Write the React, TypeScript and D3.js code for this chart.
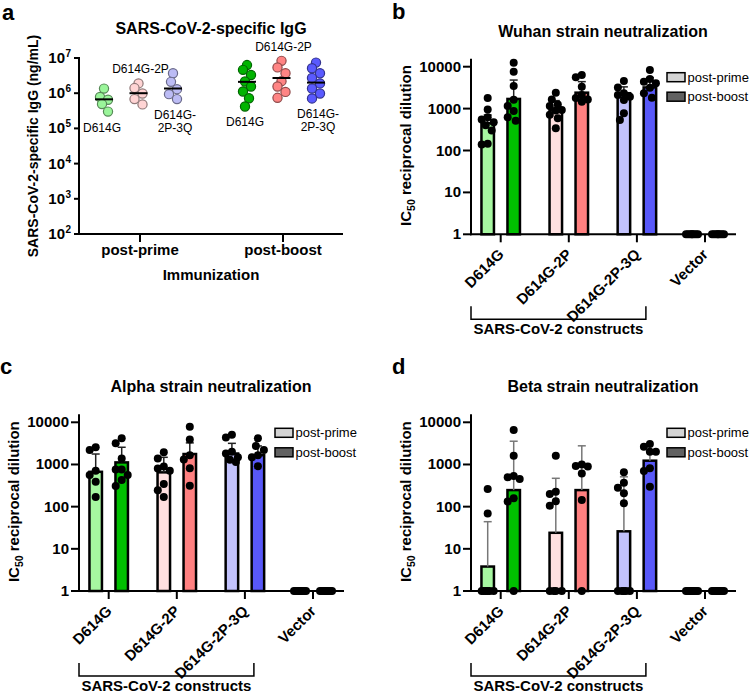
import React from 'react';
import * as d3 from 'd3';

const FONT = "'Liberation Sans', Arial, Helvetica, sans-serif";
const FS_TICK = 15;
const FS_TITLE = 16;
const FS_LABEL = 15;

// ---------- Panel a data ----------
const immunizations = ['post-prime', 'post-boost'];
const constructs = ['D614G', 'D614G-2P', 'D614G-2P-3Q'];
const iggPrime = [
  [1.35e6, 7.8e5, 6.5e5, 4.9e5, 3.0e5],
  [1.9e6, 1.4e6, 9.8e5, 6.8e5, 4.8e5],
  [3.7e6, 2.1e6, 1.3e6, 9.4e5, 6.8e5],
];
const iggBoost = [
  [6.3e6, 4.6e6, 3.3e6, 2.15e6, 1.55e6, 1.12e6, 7.2e5, 4.2e5],
  [8.3e6, 5.4e6, 3.7e6, 2.2e6, 1.55e6, 1.09e6, 7.4e5],
  [7.4e6, 5.1e6, 3.7e6, 2.7e6, 1.9e6, 1.36e6, 9.8e5, 7.1e5],
];
const iggPrimeMean = [6.7e5, 1.0e6, 1.36e6];
const iggBoostMean = [2.1e6, 2.7e6, 2.0e6];
const iggPrimeColors = ['#9af59a', '#ffd4d4', '#bcbcf5'];
const iggBoostColors = ['#00b400', '#ff8484', '#5a5aff'];
const iggTicks = [1e2, 1e3, 1e4, 1e5, 1e6, 1e7];

// ---------- Neutralization data ----------
const categories = ['D614G', 'D614G-2P', 'D614G-2P-3Q', 'Vector'];
const primeColors = ['#a6f7a0', '#ffe0e0', '#c2c2fc', '#ffffff'];
const boostColors = ['#00c000', '#ff8080', '#5858f8', '#ffffff'];
const neutTicks = [1, 10, 100, 1000, 10000];

// Wuhan
const wuhanPrimeMean = [446, 930, 2330, 1];
const wuhanPrimeErr = [705, 1550, 3300, 1];
const wuhanBoostMean = [1700, 2400, 3200, 1];
const wuhanBoostErr = [4800, 4400, 5500, 1];
const wuhanPrimePts = [
  [1800, 950, 620, 550, 470, 400, 300, 145, 140],
  [2400, 1660, 1260, 1150, 930, 900, 710, 590, 340],
  [4560, 3200, 2330, 2100, 1920, 1600, 770, 535],
  [1, 1, 1, 1, 1, 1, 1, 1],
];
const wuhanBoostPts = [
  [12500, 7600, 3450, 1620, 1150, 880, 620, 515],
  [6300, 5600, 3300, 2100, 1800, 1650, 1450],
  [8300, 5100, 4400, 4000, 3150, 2330, 1820],
  [1, 1, 1, 1, 1, 1, 1, 1],
];

// Alpha
const alphaPrimeMean = [670, 650, 1820, 1];
const alphaPrimeErr = [1770, 1480, 3170, 1];
const alphaBoostMean = [1120, 1770, 1660, 1];
const alphaBoostErr = [2560, 3250, 2750, 1];
const alphaPrimePts = [
  [2560, 2200, 710, 560, 390, 170],
  [1940, 1390, 890, 800, 710, 345, 245, 170],
  [5100, 4370, 2000, 1820, 1480, 1300, 1150],
  [1, 1, 1, 1, 1, 1, 1, 1],
];
const alphaBoostPts = [
  [4160, 3170, 1390, 760, 760, 560, 430, 310],
  [7800, 3900, 1660, 1320, 810, 315],
  [4160, 2750, 2200, 1660, 1480, 910],
  [1, 1, 1, 1, 1, 1, 1, 1],
];

// Beta
const betaPrimeMean = [3.8, 24, 26, 1];
const betaPrimeErr = [44, 470, 510, 1];
const betaBoostMean = [247, 247, 1230, 1];
const betaBoostErr = [3560, 2770, 2000, 1];
const betaPrimePts = [
  [263, 69, 1, 1, 1, 1, 1, 1],
  [1600, 225, 200, 135, 105, 1, 1, 1, 1],
  [650, 370, 280, 207, 120, 1, 1, 1, 1, 1],
  [1, 1, 1, 1, 1, 1, 1, 1],
];
const betaBoostPts = [
  [6600, 1600, 530, 500, 450, 158, 132, 1],
  [1000, 915, 900, 615, 144, 1],
  [3050, 2630, 2000, 2000, 810, 700, 295],
  [1, 1, 1, 1, 1, 1, 1, 1],
];

// simple dodge to spread overlapping points horizontally
function dodge(ys: number[], r: number, maxOff: number, step: number): number[] {
  const placed: { x: number; y: number }[] = [];
  const cands: number[] = [0];
  for (let s = step; s <= maxOff + 1e-6; s += step) { cands.push(-s, s); }
  return ys.map((y) => {
    let best = 0;
    let bestD = -1;
    for (const c of cands) {
      let md = Infinity;
      for (const p of placed) {
        const d = Math.hypot(p.x - c, p.y - y);
        if (d < md) md = d;
      }
      if (md >= 2 * r * 0.95) { best = c; bestD = md; break; }
      if (md > bestD) { bestD = md; best = c; }
    }
    placed.push({ x: best, y });
    return best;
  });
}

function PanelA() {
  const axisX = 79;
  const y = d3.scaleLog().domain([1e2, 1e7]).range([234, 58]);
  const xImm = d3.scalePoint<string>().domain(immunizations).range([140, 283]);
  const xCon = d3.scalePoint<string>().domain(constructs).range([-36, 33]);
  const groups = [
    { imm: 'post-prime', pts: iggPrime, means: iggPrimeMean, colors: iggPrimeColors },
    { imm: 'post-boost', pts: iggBoost, means: iggBoostMean, colors: iggBoostColors },
  ];
  const r = 4.6;
  return (
    <g fontFamily={FONT}>
      <text x={2} y={20} fontSize={22} fontWeight="bold">a</text>
      <text x={211} y={34} fontSize={FS_TITLE} fontWeight="bold" textAnchor="middle">SARS-CoV-2-specific IgG</text>
      <line x1={axisX} x2={axisX} y1={57} y2={235} stroke="#000" strokeWidth={2} />
      <line x1={axisX - 1} x2={343} y1={234} y2={234} stroke="#000" strokeWidth={2} />
      {iggTicks.map((t) => (
        <g key={t}>
          <line x1={axisX - 5} x2={axisX} y1={y(t)} y2={y(t)} stroke="#000" strokeWidth={2} />
          <text x={axisX - 14} y={y(t) + 5} fontSize={FS_TICK} fontWeight="bold" textAnchor="end">10</text>
          <text x={axisX - 13.5} y={y(t) - 1} fontSize={10} fontWeight="bold" textAnchor="start">{Math.round(Math.log10(t))}</text>
        </g>
      ))}
      {immunizations.map((im) => (
        <g key={im}>
          <line x1={xImm(im)} x2={xImm(im)} y1={234} y2={242} stroke="#000" strokeWidth={2} />
          <text x={xImm(im)} y={255} fontSize={FS_TICK} fontWeight="bold" textAnchor="middle">{im}</text>
        </g>
      ))}
      <text x={211} y={280} fontSize={FS_LABEL} fontWeight="bold" textAnchor="middle">Immunization</text>
      <text transform={`translate(38,146) rotate(-90)`} fontSize={14} fontWeight="bold" textAnchor="middle">SARS-CoV-2-specific IgG (ng/mL)</text>
      {groups.map((g) =>
        constructs.map((c, ci) => {
          const cx = (xImm(g.imm) as number) + (xCon(c) as number);
          const ys = g.pts[ci].map((v) => y(v));
          const offs = dodge(ys, r, 4, 2);
          const minY = d3.max(ys) as number;
          const maxY = d3.min(ys) as number;
          const fill = g.colors[ci];
          const stroke = d3.color(fill)!.darker(1.6).formatHex();
          let label: React.ReactNode = null;
          if (ci === 1) {
            label = <text x={cx + 2} y={maxY - 10} fontSize={12} textAnchor="middle">D614G-2P</text>;
          } else if (ci === 0) {
            label = <text x={cx - 2} y={minY + 20} fontSize={12} textAnchor="middle">D614G</text>;
          } else {
            label = (
              <text x={cx + 2} y={minY + 20} fontSize={12} textAnchor="middle">
                <tspan x={cx + 2}>D614G-</tspan>
                <tspan x={cx + 2} dy={13}>2P-3Q</tspan>
              </text>
            );
          }
          return (
            <g key={g.imm + c}>
              {ys.map((yy, i) => (
                <circle key={i} cx={cx + offs[i]} cy={yy} r={r} fill={fill} stroke={stroke} strokeWidth={1.2} />
              ))}
              <line x1={cx - 9} x2={cx + 9} y1={y(g.means[ci])} y2={y(g.means[ci])} stroke="#000" strokeWidth={2} />
              {label}
            </g>
          );
        })
      )}
    </g>
  );
}

type BarPanelProps = {
  axisX: number;
  y1: number;
  y10k: number;
  letter: string;
  title: string;
  primeMean: number[];
  primeErr: number[];
  boostMean: number[];
  boostErr: number[];
  primePts: number[][];
  boostPts: number[][];
  errColor: string;
};

function BarPanel(p: BarPanelProps) {
  const { axisX, y1, y10k } = p;
  const y = d3.scaleLog().domain([1, 10000]).range([y1, y10k]);
  const x = d3.scalePoint<string>().domain(categories).range([axisX + 29.7, axisX + 234]);
  const off = 13;
  const bw = 12.5;
  const r = 4;
  const series = [
    { key: 'prime', dx: -off, mean: p.primeMean, err: p.primeErr, pts: p.primePts, colors: primeColors },
    { key: 'boost', dx: off, mean: p.boostMean, err: p.boostErr, pts: p.boostPts, colors: boostColors },
  ];
  const xLast = x('D614G-2P-3Q') as number;
  return (
    <g fontFamily={FONT}>
      <text x={axisX - 79} y={y10k - 48} fontSize={22} fontWeight="bold">{p.letter}</text>
      <text x={axisX + 132} y={y10k - 30} fontSize={FS_TITLE} fontWeight="bold" textAnchor="middle">{p.title}</text>
      <text transform={`translate(${axisX - 60},${(y1 + y10k) / 2 - 5}) rotate(-90)`} fontSize={FS_LABEL} fontWeight="bold" textAnchor="middle">
        IC<tspan fontSize={10.5} dy={4}>50</tspan><tspan dy={-4}> reciprocal dilution</tspan>
      </text>
      {series.map((s) =>
        categories.map((c, ci) => {
          const cx = (x(c) as number) + s.dx;
          const top = y(s.mean[ci]);
          return (
            <rect key={s.key + c} x={cx - bw / 2} y={top} width={bw} height={Math.max(0, y1 - top)} fill={s.colors[ci]} stroke="#000" strokeWidth={2.5} />
          );
        })
      )}
      {series.map((s) =>
        categories.map((c, ci) => {
          if (s.err[ci] <= s.mean[ci]) return null;
          const cx = (x(c) as number) + s.dx;
          return (
            <g key={'e' + s.key + c} stroke={p.errColor} strokeWidth={1.5}>
              <line x1={cx} x2={cx} y1={y(s.mean[ci])} y2={y(s.err[ci])} />
              <line x1={cx - 4} x2={cx + 4} y1={y(s.err[ci])} y2={y(s.err[ci])} />
            </g>
          );
        })
      )}
      {series.map((s) =>
        categories.map((c, ci) => {
          const cx = (x(c) as number) + s.dx;
          const ys = s.pts[ci].map((v) => y(v));
          const offs = dodge(ys, r, 6, 2);
          return (
            <g key={'p' + s.key + c}>
              {ys.map((yy, i) => (
                <circle key={i} cx={cx + offs[i]} cy={yy} r={r} fill="#000" />
              ))}
            </g>
          );
        })
      )}
      <line x1={axisX} x2={axisX} y1={y(10000) - 8} y2={y1 + 1} stroke="#000" strokeWidth={2} />
      <line x1={axisX - 1} x2={axisX + 265} y1={y1} y2={y1} stroke="#000" strokeWidth={2} />
      {neutTicks.map((t) => (
        <g key={t}>
          <line x1={axisX - 8} x2={axisX} y1={y(t)} y2={y(t)} stroke="#000" strokeWidth={2} />
          <text x={axisX - 10} y={y(t) + 5} fontSize={FS_TICK} fontWeight="bold" textAnchor="end">{t}</text>
        </g>
      ))}
      {categories.map((c) => (
        <g key={'t' + c}>
          <line x1={x(c)} x2={x(c)} y1={y1} y2={y1 + 8} stroke="#000" strokeWidth={2} />
          <text transform={`translate(${(x(c) as number) + 4},${y1 + 21}) rotate(-45)`} fontSize={FS_TICK} fontWeight="bold" textAnchor="end">{c}</text>
        </g>
      ))}
      <path d={`M${axisX},${y1 + 72}V${y1 + 85}H${xLast + 9}V${y1 + 72}`} fill="none" stroke="#000" strokeWidth={1.5} />
      <text x={(axisX + xLast + 9) / 2} y={y1 + 100} fontSize={FS_LABEL} fontWeight="bold" textAnchor="middle">SARS-CoV-2 constructs</text>
      <g>
        <rect x={axisX + 196} y={y10k + 6} width={18} height={9} fill="#d4d4d4" stroke="#000" strokeWidth={1.5} />
        <text x={axisX + 216.5} y={y10k + 15} fontSize={13}>post-prime</text>
        <rect x={axisX + 196} y={y10k + 25.5} width={18} height={9} fill="#616161" stroke="#000" strokeWidth={1.5} />
        <text x={axisX + 216.5} y={y10k + 34.5} fontSize={13}>post-boost</text>
      </g>
    </g>
  );
}

export default function App() {
  return (
    <svg width={750} height={693} style={{ position: 'absolute', left: 0, top: 0, background: '#fff' }}>
      <rect width={750} height={693} fill="#fff" />
      <PanelA />
      <BarPanel axisX={471} y1={234.3} y10k={66.7} letter="b" title="Wuhan strain neutralization"
        primeMean={wuhanPrimeMean} primeErr={wuhanPrimeErr} boostMean={wuhanBoostMean} boostErr={wuhanBoostErr}
        primePts={wuhanPrimePts} boostPts={wuhanBoostPts} errColor="#222" />
      <BarPanel axisX={79} y1={591} y10k={422.3} letter="c" title="Alpha strain neutralization"
        primeMean={alphaPrimeMean} primeErr={alphaPrimeErr} boostMean={alphaBoostMean} boostErr={alphaBoostErr}
        primePts={alphaPrimePts} boostPts={alphaBoostPts} errColor="#222" />
      <BarPanel axisX={471} y1={591} y10k={422.3} letter="d" title="Beta strain neutralization"
        primeMean={betaPrimeMean} primeErr={betaPrimeErr} boostMean={betaBoostMean} boostErr={betaBoostErr}
        primePts={betaPrimePts} boostPts={betaBoostPts} errColor="#777" />
    </svg>
  );
}
